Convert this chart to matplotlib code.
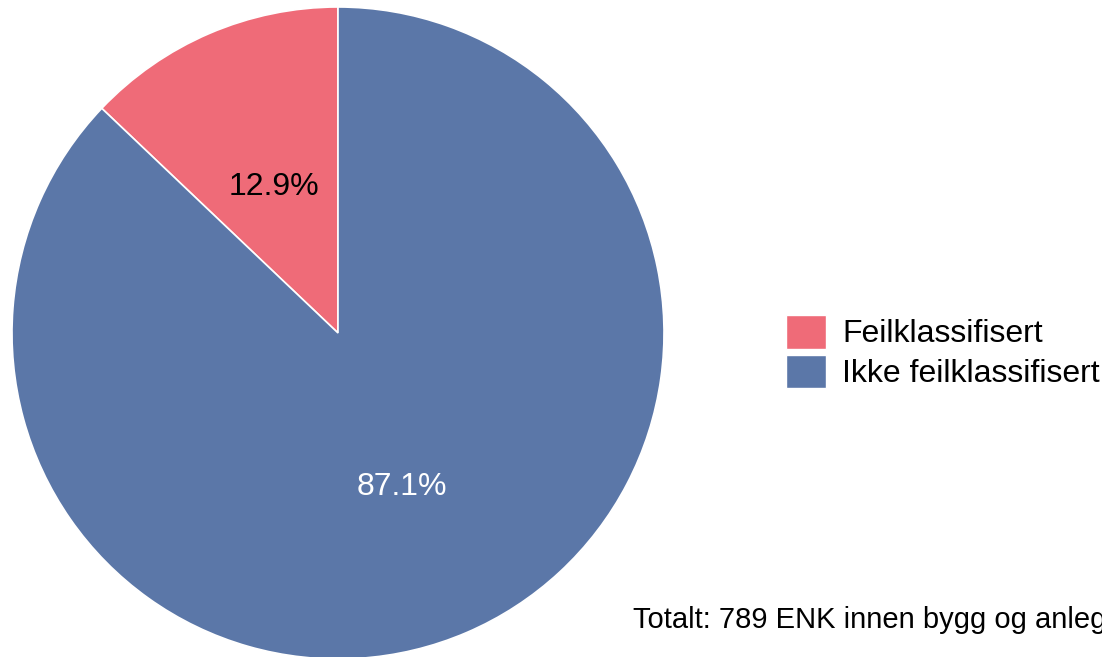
import matplotlib.pyplot as plt
from matplotlib.patches import Patch

labels = ['Feilklassifisert', 'Ikke feilklassifisert']
values = [12.9, 87.1]
colors = ['#EF6B78', '#5B77A8']
caption = 'Totalt: 789 ENK innen bygg og anlegg'

plt.rcParams['font.family'] = ['Liberation Sans', 'DejaVu Sans']

W, H = 1102, 657
fs = 23
fig = plt.figure(figsize=(W / 100, H / 100), dpi=100)
ax = fig.add_axes([12 / W, -2 / H, 652 / W, 652 / H])

wedges, texts, autotexts = ax.pie(values, colors=colors, startangle=90, counterclock=True,
                                  autopct='%.1f%%', pctdistance=0.5, radius=1,
                                  wedgeprops=dict(edgecolor='white', linewidth=1.2),
                                  textprops=dict(fontsize=fs))
autotexts[0].set_color('black')
autotexts[1].set_color('white')
# nudge labels down a few pixels, like the original
for t in autotexts:
    x, y = t.get_position()
    t.set_position((x, y - 0.013))
ax.set_xlim(-1, 1)
ax.set_ylim(-1, 1)
ax.set_aspect('equal')
ax.axis('off')

handles = [Patch(facecolor=c, edgecolor='white') for c in colors]
fig.legend(handles, labels, loc='center left', bbox_to_anchor=(786 / W, 1 - 352 / H),
           frameon=False, fontsize=fs, handlelength=1.25, handleheight=1.25,
           labelspacing=0.16, handletextpad=0.5, borderpad=0, borderaxespad=0)

fig.text(633 / W, 1 - 620 / H, caption, fontsize=21, ha='left', va='center')

fig.savefig('out.png', dpi=100)
